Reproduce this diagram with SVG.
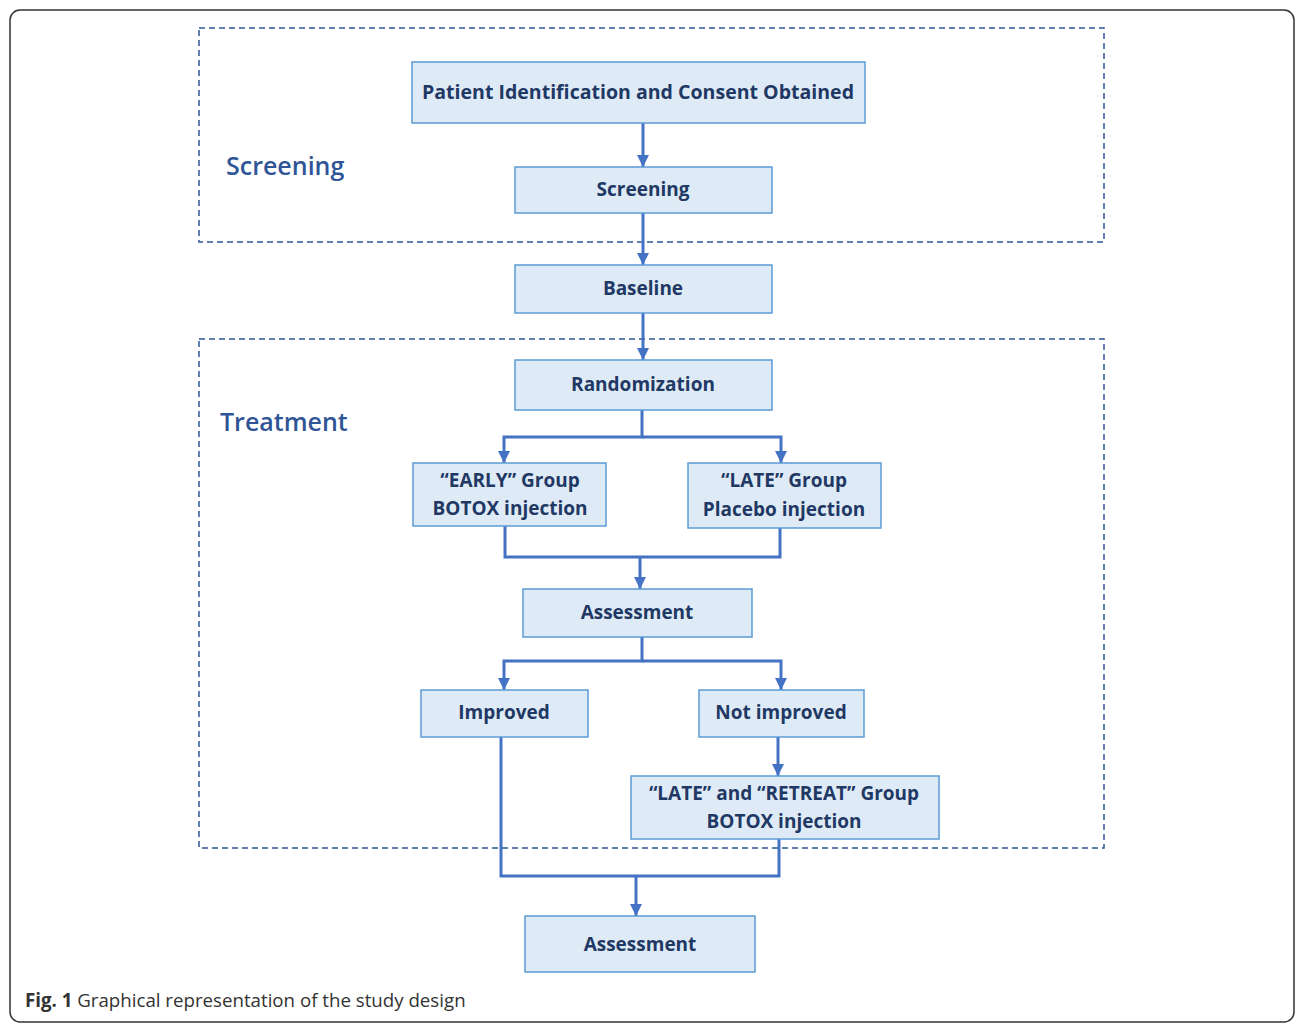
<svg xmlns="http://www.w3.org/2000/svg" width="1295" height="1024" viewBox="0 0 1295 1024">
<style>
.box{fill:#deebf7;stroke:#5b9bd5;stroke-width:1.5}
.t{font-family:"Open Sans","Liberation Sans",sans-serif;font-weight:700;font-size:19px;fill:#1f3864;text-anchor:middle;dominant-baseline:central}
.lbl{font-family:"Open Sans","Liberation Sans",sans-serif;font-weight:600;font-size:25px;fill:#2f5597;dominant-baseline:central}
.dash{fill:none;stroke:#2f5597;stroke-width:1.5;stroke-dasharray:6,4}
.c{fill:none;stroke:#4472c4;stroke-width:3}
.cap{font-family:"Open Sans","Liberation Sans",sans-serif;font-size:18.7px;fill:#333}
</style>
<defs>
<marker id="ah" viewBox="0 0 10 10" refX="10" refY="5" markerWidth="12" markerHeight="12" markerUnits="userSpaceOnUse" orient="auto">
<path d="M0,0 L10,5 L0,10 Z" fill="#4472c4"/>
</marker>
</defs>
<rect x="10" y="10" width="1284" height="1012" rx="10" fill="#fff" stroke="#333" stroke-width="1.5"/>
<rect class="dash" x="199" y="28" width="905" height="214"/>
<rect class="dash" x="199" y="339" width="905" height="509"/>
<text class="lbl" x="226" y="165">Screening</text>
<text class="lbl" x="220" y="421">Treatment</text>
<g id="connectors">
<path class="c" d="M643,123 V167" marker-end="url(#ah)"/>
<path class="c" d="M643,213 V265" marker-end="url(#ah)"/>
<path class="c" d="M643,313 V360" marker-end="url(#ah)"/>
<path class="c" d="M642,410 V437 H504 V463" marker-end="url(#ah)"/>
<path class="c" d="M642,437 H781 V463" marker-end="url(#ah)"/>
<path class="c" d="M505,526 V557 H780 V528"/>
<path class="c" d="M640,557 V589" marker-end="url(#ah)"/>
<path class="c" d="M642,637 V661 H504 V690" marker-end="url(#ah)"/>
<path class="c" d="M642,661 H781 V690" marker-end="url(#ah)"/>
<path class="c" d="M778,737 V776" marker-end="url(#ah)"/>
<path class="c" d="M501,737 V876 H779 V839"/>
<path class="c" d="M636,876 V916" marker-end="url(#ah)"/>
</g>
<g id="n1"><rect class="box" x="412" y="62" width="453" height="61"/><text class="t" x="638" y="92" textLength="432" lengthAdjust="spacingAndGlyphs">Patient Identification and Consent Obtained</text></g>
<g id="n2"><rect class="box" x="515" y="167" width="257" height="46"/><text class="t" x="643" y="189">Screening</text></g>
<g id="n3"><rect class="box" x="515" y="265" width="257" height="48"/><text class="t" x="643" y="288">Baseline</text></g>
<g id="n4"><rect class="box" x="515" y="360" width="257" height="50"/><text class="t" x="643" y="384">Randomization</text></g>
<g id="n5"><rect class="box" x="413" y="463" width="193" height="63"/><text class="t" x="510" y="480">“EARLY” Group</text><text class="t" x="510" y="508">BOTOX injection</text></g>
<g id="n6"><rect class="box" x="688" y="463" width="193" height="65"/><text class="t" x="784" y="480">“LATE” Group</text><text class="t" x="784" y="509">Placebo injection</text></g>
<g id="n7"><rect class="box" x="523" y="589" width="229" height="48"/><text class="t" x="637" y="612">Assessment</text></g>
<g id="n8"><rect class="box" x="421" y="690" width="167" height="47"/><text class="t" x="504" y="712">Improved</text></g>
<g id="n9"><rect class="box" x="699" y="690" width="165" height="47"/><text class="t" x="781" y="712">Not improved</text></g>
<g id="n10"><rect class="box" x="631" y="776" width="308" height="63"/><text class="t" x="784" y="793">“LATE” and “RETREAT” Group</text><text class="t" x="784" y="821">BOTOX injection</text></g>
<g id="n11"><rect class="box" x="525" y="916" width="230" height="56"/><text class="t" x="640" y="944">Assessment</text></g>
<text class="cap" x="25" y="1007"><tspan font-weight="bold">Fig. 1</tspan> Graphical representation of the study design</text>
</svg>
